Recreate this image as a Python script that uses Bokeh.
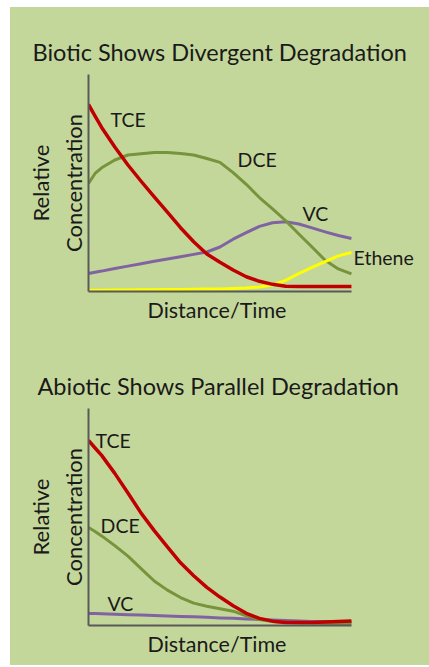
from bokeh.plotting import figure
from bokeh.models import Range1d, FixedTicker, Label, Title
from bokeh.layouts import column
from bokeh.embed import file_html
from bokeh.resources import INLINE

# ---- data (relative concentration) ----
distance = [0, 0.25, 0.5, 1, 1.5, 2, 2.5, 3, 3.5, 4, 4.5, 5,
            5.5, 6, 6.5, 7, 7.5, 8, 8.5, 9, 9.5, 10]

bio_tce = [0.862, 0.808, 0.756, 0.666, 0.583, 0.508, 0.436, 0.366, 0.294, 0.229, 0.173, 0.135,
           0.099, 0.068, 0.047, 0.033, 0.024, 0.023, 0.023, 0.023, 0.023, 0.023]
bio_dce = [0.498, 0.544, 0.570, 0.606, 0.629, 0.635, 0.641, 0.641, 0.636, 0.629, 0.613, 0.595,
           0.548, 0.494, 0.433, 0.381, 0.326, 0.265, 0.205, 0.144, 0.104, 0.081]
bio_vc = [0.083, 0.089, 0.094, 0.106, 0.117, 0.128, 0.139, 0.150, 0.160, 0.171, 0.182, 0.205,
          0.241, 0.271, 0.300, 0.317, 0.321, 0.311, 0.293, 0.275, 0.258, 0.244]
bio_ethene = [0.006, 0.006, 0.006, 0.007, 0.007, 0.008, 0.008, 0.009, 0.009, 0.010, 0.011, 0.012,
              0.014, 0.016, 0.021, 0.030, 0.051, 0.083, 0.111, 0.138, 0.164, 0.180]

abio_tce = [0.853, 0.818, 0.784, 0.701, 0.611, 0.518, 0.437, 0.362, 0.289, 0.229, 0.176, 0.131,
            0.091, 0.056, 0.033, 0.020, 0.014, 0.014, 0.014, 0.016, 0.018, 0.021]
abio_dce = [0.452, 0.433, 0.413, 0.368, 0.320, 0.262, 0.205, 0.163, 0.129, 0.103, 0.089, 0.077,
            0.066, 0.045, 0.028, 0.018, 0.014, 0.012, 0.010, 0.009, 0.009, 0.009]
abio_vc = [0.055, 0.055, 0.054, 0.052, 0.050, 0.048, 0.046, 0.044, 0.042, 0.040, 0.038, 0.035,
           0.033, 0.030, 0.028, 0.025, 0.023, 0.021, 0.019, 0.018, 0.017, 0.016]

titles = ["Biotic Shows Divergent Degradation", "Abiotic Shows Parallel Degradation"]
x_label = "Distance/Time"
y_label = "Relative\nConcentration"

BG = "#C4D79B"
AXIS = "#595959"
TEXT = "#1A1A1A"
FONT = "Lato"
RED = "#C00000"
GREEN = "#77933C"
PURPLE = "#8064A2"
YELLOW = "#FFFF00"


def make_fig(title, height, bottom, title_offset):
    p = figure(width=419, height=height, x_range=Range1d(0, 12.74), y_range=Range1d(0, 1),
               output_backend="svg", toolbar_location=None,
               min_border_left=78, min_border_right=6, min_border_top=67,
               min_border_bottom=bottom)
    p.background_fill_color = BG
    p.border_fill_color = BG
    p.outline_line_color = None
    p.grid.visible = False
    p.title.text = title
    p.title.align = "left"
    p.title.offset = title_offset
    p.title.text_font = FONT
    p.title.text_font_size = "23.5px"
    p.title.text_font_style = "normal"
    p.title.text_color = TEXT
    p.title.standoff = 18
    for ax in (p.xaxis[0], p.yaxis[0]):
        ax.ticker = FixedTicker(ticks=[])
        ax.major_tick_line_color = None
        ax.minor_tick_line_color = None
        ax.major_tick_out = 0
        ax.major_tick_in = 0
        ax.major_label_standoff = 0
        ax.axis_line_color = AXIS
        ax.axis_line_width = 2
        ax.axis_label_text_font = FONT
        ax.axis_label_text_font_style = "normal"
        ax.axis_label_text_color = TEXT
        ax.axis_label_text_font_size = "22px"
    p.xaxis.bounds = (0, 10)
    p.yaxis.axis_label = y_label
    p.yaxis.axis_label_standoff = 2
    # x-axis label, left-aligned under the bounded axis line
    p.add_layout(Title(text=x_label, align="left", offset=59, standoff=6,
                       text_font=FONT, text_font_size="21.5px", text_font_style="normal",
                       text_color=TEXT), "below")
    return p


def add_label(p, x, y, text):
    p.add_layout(Label(x=x, y=y, text=text, text_font=FONT, text_font_size="19.5px",
                       text_color=TEXT, text_baseline="middle", text_align="left"))


top = make_fig(titles[0], 334, 50, -56)
top.line(distance, bio_vc, line_color=PURPLE, line_width=3, line_join="round")
top.line(distance, bio_dce, line_color=GREEN, line_width=3, line_join="round")
top.line(distance, bio_ethene, line_color=YELLOW, line_width=3, line_join="round")
top.line(distance, bio_tce, line_color=RED, line_width=3.5, line_join="round")
add_label(top, 0.84, 0.793, "TCE")
add_label(top, 5.67, 0.608, "DCE")
add_label(top, 8.14, 0.359, "VC")
add_label(top, 10.08, 0.157, "Ethene")

bot = make_fig(titles[1], 324, 40, -51)
bot.line(distance, abio_vc, line_color=PURPLE, line_width=3, line_join="round")
bot.line(distance, abio_dce, line_color=GREEN, line_width=3, line_join="round")
bot.line(distance, abio_tce, line_color=RED, line_width=3.5, line_join="round")
add_label(bot, 0.27, 0.853, "TCE")
add_label(bot, 0.46, 0.461, "DCE")
add_label(bot, 0.72, 0.101, "VC")

layout = column(top, bot, spacing=0, margin=(7, 0, 0, 10),
                styles={"background-color": BG})
open("out.html", "w").write(file_html(layout, INLINE))
